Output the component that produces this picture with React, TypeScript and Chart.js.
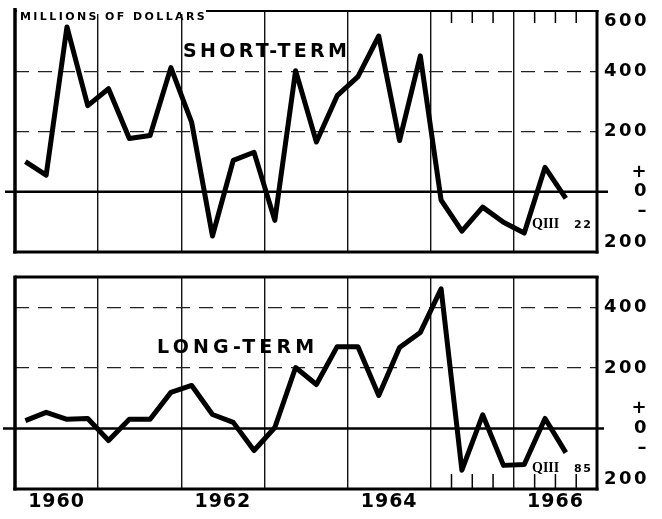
import React, { useEffect, useRef } from 'react';
import { Chart, registerables } from 'chart.js';

Chart.register(...registerables);

// ---------------- DATA ----------------
const FIRST_YEAR = 1960;
const N_YEARS = 7;
const QUARTERS = [
  '1960 QI', '1960 QII', '1960 QIII', '1960 QIV',
  '1961 QI', '1961 QII', '1961 QIII', '1961 QIV',
  '1962 QI', '1962 QII', '1962 QIII', '1962 QIV',
  '1963 QI', '1963 QII', '1963 QIII', '1963 QIV',
  '1964 QI', '1964 QII', '1964 QIII', '1964 QIV',
  '1965 QI', '1965 QII', '1965 QIII', '1965 QIV',
  '1966 QI', '1966 QII', '1966 QIII',
];
const SHORT_TERM = [
  100, 55, 547, 286,
  342, 177, 187, 412,
  230, -147, 104, 131,
  -95, 402, 165, 319,
  382, 517, 170, 451,
  -28, -131, -51, -101,
  -137, 81, -22,
];
const LONG_TERM = [
  26, 53, 30, 33,
  -40, 30, 30, 119,
  142, 46, 20, -73,
  3, 201, 145, 270,
  270, 109, 267, 317,
  461, -138, 45, -122,
  -119, 33, -80,
];
const YEAR_LABELS = ['1960', '1962', '1964', '1966'];
const SHORT_Y_TICKS = [600, 400, 200, 0, -200];
const LONG_Y_TICKS = [400, 200, 0, -200];
const SHORT_RANGE = [-200, 600];
const LONG_RANGE = [-200, 500];
const ZERO_LABEL = ['+', '0', '–'];
const UNIT_LABEL = 'MILLIONS OF DOLLARS';
const SHORT_TITLE = 'SHORT-TERM';
const LONG_TITLE = 'LONG-TERM';
const LAST_QUARTER = 'QIII';
const SHORT_LAST = '22';
const LONG_LAST = '85';
const QUARTER_TICK_YEARS = [1965, 1966];

// ---------------- helpers ----------------
const SANS = '"DejaVu Sans", sans-serif';
const SERIF = '"Liberation Serif", serif';

type Spec = {
  values: number[];
  range: number[];
  yTicks: number[];
  title: string;
  titleX: number;
  titleBase: number;
  titleSpacing: number;
  last: string;
  lastBase: number;
  padTop: number;
  xHeight: number;
  showYears: boolean;
  showUnit: boolean;
  zeroFrom: number;
  zeroTo: number;
  ticksFromTop: boolean;
};

function yearCenter(label: string) {
  return (parseInt(label, 10) - FIRST_YEAR) * 4 + 2;
}

function buildConfig(spec: Spec): any {
  const [yMin, yMax] = spec.range;
  const xMax = N_YEARS * 4;
  const gridVals: number[] = [];
  for (let y = 1; y < N_YEARS; y++) gridVals.push(y * 4);
  const labelVals = spec.showYears ? YEAR_LABELS.map(yearCenter) : [];
  const xTickVals = [...gridVals, ...labelVals].sort((a, b) => a - b);
  const qTicks: number[] = [];
  QUARTER_TICK_YEARS.forEach((yr) => {
    for (let q = 1; q < 4; q++) qTicks.push((yr - FIRST_YEAR) * 4 + q);
  });

  const line = (ctx: CanvasRenderingContext2D, x1: number, y1: number, x2: number, y2: number) => {
    ctx.beginPath();
    ctx.moveTo(x1, y1);
    ctx.lineTo(x2, y2);
    ctx.stroke();
  };

  const decor = {
    id: 'decor',
    beforeLayout(chart: any) {
      chart.ctx.letterSpacing = '2.5px';
    },
    beforeDraw(chart: any) {
      chart.ctx.letterSpacing = '2.5px';
    },
    beforeDatasetsDraw(chart: any) {
      const { ctx, chartArea: a, scales } = chart;
      ctx.save();
      ctx.strokeStyle = '#000';
      ctx.lineCap = 'butt';
      // zero line
      const y0 = scales.y.getPixelForValue(0);
      ctx.lineWidth = 2.6;
      line(ctx, spec.zeroFrom, y0, spec.zeroTo, y0);
      // frame
      ctx.lineWidth = spec.showUnit ? 2 : 3;
      line(ctx, a.left, a.top, a.right + 1.5, a.top);
      ctx.lineWidth = 3.5;
      line(ctx, a.left, a.top - (spec.showUnit ? 3 : 1.5), a.left, a.bottom + 1.5);
      ctx.lineWidth = 3;
      line(ctx, a.left - 1.75, a.bottom, a.right + 1.5, a.bottom);
      line(ctx, a.right, a.top - 1, a.right, a.bottom + 1.5);
      // quarter tick marks
      ctx.lineWidth = 1.5;
      qTicks.forEach((v) => {
        const x = scales.x.getPixelForValue(v);
        if (spec.ticksFromTop) line(ctx, x, a.top, x, a.top + 12);
        else line(ctx, x, a.bottom, x, a.bottom - 15);
      });
      ctx.restore();
    },
    afterDatasetsDraw(chart: any) {
      const { ctx, chartArea: a } = chart;
      ctx.save();
      ctx.fillStyle = '#000';
      ctx.textBaseline = 'alphabetic';
      ctx.textAlign = 'left';
      if (spec.showUnit) {
        ctx.fillStyle = '#fff';
        ctx.fillRect(a.left + 2, a.top - 3, 206 - a.left - 2, 6);
        ctx.fillStyle = '#000';
        ctx.font = `bold 11px ${SANS}`;
        ctx.letterSpacing = '2.4px';
        ctx.fillText(UNIT_LABEL, 20, 19.5);
      }
      ctx.font = `bold 19px ${SANS}`;
      ctx.letterSpacing = `${spec.titleSpacing}px`;
      ctx.fillText(spec.title, spec.titleX, spec.titleBase);
      ctx.letterSpacing = '0px';
      ctx.font = `bold 14px ${SERIF}`;
      ctx.fillText(LAST_QUARTER, 532, spec.lastBase);
      ctx.font = `bold 11px ${SANS}`;
      ctx.letterSpacing = '1.5px';
      ctx.fillText(spec.last, 574, spec.lastBase);
      ctx.restore();
      // spacing for x-axis year labels (drawn after datasets)
      ctx.letterSpacing = '1px';
    },
  };

  return {
    type: 'line',
    data: {
      labels: QUARTERS,
      datasets: [
        {
          label: spec.title,
          data: spec.values.map((v, i) => ({ x: i + 0.5, y: v })),
          borderColor: '#000',
          borderWidth: 5,
          borderJoinStyle: 'round',
          borderCapStyle: 'butt',
          pointRadius: 0,
          tension: 0,
          fill: false,
        },
      ],
    },
    options: {
      responsive: false,
      animation: false,
      devicePixelRatio: 1,
      layout: { padding: { left: 15, top: spec.padTop, right: 13, bottom: 0 } },
      plugins: { legend: { display: false }, tooltip: { enabled: false }, title: { display: false } },
      scales: {
        x: {
          type: 'linear',
          min: 0,
          max: xMax,
          afterBuildTicks: (scale: any) => {
            scale.ticks = xTickVals.map((v) => ({ value: v }));
          },
          afterFit: (scale: any) => {
            scale.height = spec.xHeight;
            scale.paddingLeft = 0;
            scale.paddingRight = 0;
          },
          grid: {
            drawTicks: false,
            lineWidth: 1.4,
            color: (c: any) => (c.tick && c.tick.value % 4 === 0 ? '#111' : 'rgba(0,0,0,0)'),
          },
          border: { display: false },
          ticks: {
            display: spec.showYears,
            z: 1,
            autoSkip: false,
            maxRotation: 0,
            padding: 2,
            color: '#000',
            font: { family: SANS, weight: 'bold', size: 19, lineHeight: 1.2 },
            callback: (v: number) => {
              const idx = YEAR_LABELS.findIndex((l) => yearCenter(l) === v);
              return idx >= 0 ? YEAR_LABELS[idx] : '';
            },
          },
        },
        y: {
          position: 'right',
          min: yMin,
          max: yMax,
          afterBuildTicks: (scale: any) => {
            scale.ticks = spec.yTicks.map((v) => ({ value: v }));
          },
          afterFit: (scale: any) => {
            scale.width = 52;
            scale.paddingTop = 0;
            scale.paddingBottom = 0;
          },
          grid: {
            drawTicks: false,
            lineWidth: 1.3,
            color: (c: any) =>
              c.tick && c.tick.value > 0 && c.tick.value < yMax ? '#222' : 'rgba(0,0,0,0)',
          },
          border: { display: false, dash: [14, 9] },
          ticks: {
            autoSkip: false,
            padding: 4,
            crossAlign: 'far',
            color: '#000',
            font: { family: SANS, weight: 'bold', size: 18, lineHeight: 1.1 },
            callback: (v: number) => {
              if (v === 0) return ZERO_LABEL;
              const s = String(Math.abs(v));
              if (v === yMax) return ['', s];
              if (v === yMin) return [s, ''];
              return s;
            },
          },
        },
      },
    },
    plugins: [decor],
  };
}

export default function App() {
  const topRef = useRef<HTMLCanvasElement>(null);
  const botRef = useRef<HTMLCanvasElement>(null);

  useEffect(() => {
    const top = new Chart(
      topRef.current as HTMLCanvasElement,
      buildConfig({
        values: SHORT_TERM,
        range: SHORT_RANGE,
        yTicks: SHORT_Y_TICKS,
        title: SHORT_TITLE,
        titleX: 183,
        titleBase: 57,
        titleSpacing: 3.3,
        last: SHORT_LAST,
        lastBase: 228,
        padTop: 11,
        xHeight: 10,
        showYears: false,
        showUnit: true,
        zeroFrom: 5,
        zeroTo: 608,
        ticksFromTop: true,
      })
    );
    const bottom = new Chart(
      botRef.current as HTMLCanvasElement,
      buildConfig({
        values: LONG_TERM,
        range: LONG_RANGE,
        yTicks: LONG_Y_TICKS,
        title: LONG_TITLE,
        titleX: 157,
        titleBase: 91,
        titleSpacing: 4.2,
        last: LONG_LAST,
        lastBase: 210,
        padTop: 15,
        xHeight: 30,
        showYears: true,
        showUnit: false,
        zeroFrom: 3,
        zeroTo: 604,
        ticksFromTop: false,
      })
    );
    return () => {
      top.destroy();
      bottom.destroy();
    };
  }, []);

  return (
    <div style={{ position: 'fixed', left: 0, top: 0, width: 662, height: 519, background: '#fff' }}>
      <canvas
        ref={topRef}
        width={662}
        height={262}
        style={{ position: 'absolute', left: 0, top: 0, width: 662, height: 262 }}
      />
      <canvas
        ref={botRef}
        width={662}
        height={257}
        style={{ position: 'absolute', left: 0, top: 262, width: 662, height: 257 }}
      />
    </div>
  );
}
